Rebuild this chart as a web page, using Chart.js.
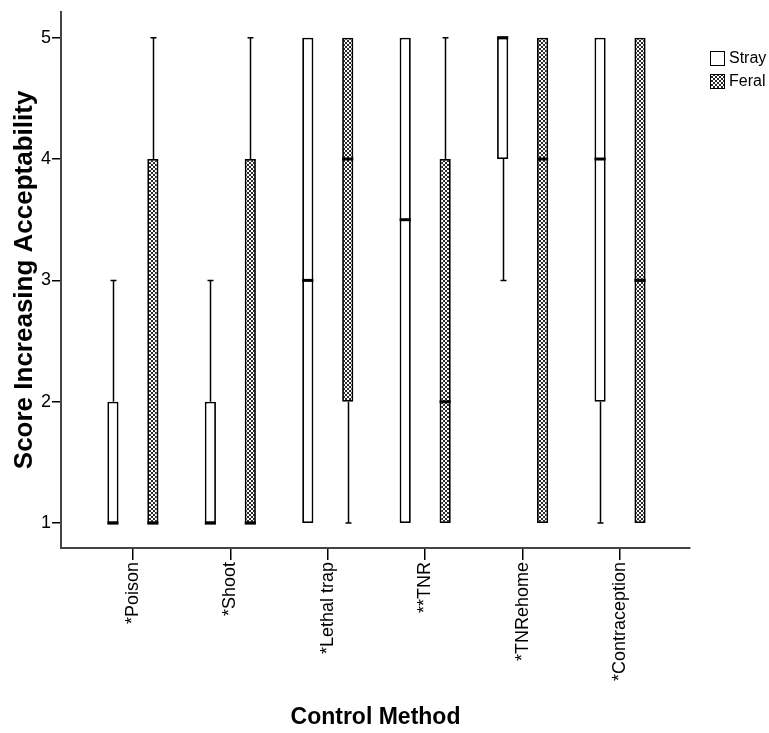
<!DOCTYPE html>
<html>
<head>
<meta charset="utf-8">
<script src="https://cdn.jsdelivr.net/npm/chart.js@4.4.1/dist/chart.umd.min.js"></script>
<style>
  html, body { margin: 0; padding: 0; background: #fff; }
</style>
</head>
<body>
<canvas id="boxChart" width="769" height="733"></canvas>
<script>
const methods = ['*Poison', '*Shoot', '*Lethal trap', '**TNR', '*TNRehome', '*Contraception'];
const groups = ['Stray', 'Feral'];

// five-number summaries
const strayMin = [1, 1, 1, 1, 3, 1];
const strayQ1 = [1, 1, 1, 1, 4, 2];
const strayMedian = [1, 1, 3, 3.5, 5, 4];
const strayQ3 = [2, 2, 5, 5, 5, 5];
const strayMax = [3, 3, 5, 5, 5, 5];

const feralMin = [1, 1, 1, 1, 1, 1];
const feralQ1 = [1, 1, 2, 1, 1, 1];
const feralMedian = [1, 1, 4, 2, 4, 3];
const feralQ3 = [4, 4, 5, 4, 5, 5];
const feralMax = [5, 5, 5, 5, 5, 5];

const scoreTicks = [1, 2, 3, 4, 5];

const FONT = "'Liberation Sans', Arial, sans-serif";

function dotPattern() {
  const c = document.createElement('canvas');
  c.width = 4;
  c.height = 4;
  const g = c.getContext('2d');
  g.fillStyle = '#2a2a2a';
  g.fillRect(0, 0, 4, 4);
  g.fillStyle = '#ffffff';
  g.fillRect(1, 0, 2, 2);
  g.fillRect(3, 2, 1, 2);
  g.fillRect(0, 2, 1, 2);
  return g.createPattern(c, 'repeat');
}
const feralFill = dotPattern();

const stats = [
  {min: strayMin, q1: strayQ1, med: strayMedian, q3: strayQ3, max: strayMax},
  {min: feralMin, q1: feralQ1, med: feralMedian, q3: feralQ3, max: feralMax}
];

// whiskers + medians on top of the floating bars
const boxPlot = {
  id: 'boxPlot',
  afterDatasetsDraw(chart) {
    const ctx = chart.ctx;
    const yScale = chart.scales.y;
    ctx.save();
    ctx.strokeStyle = '#000';
    stats.forEach((s, d) => {
      chart.getDatasetMeta(d).data.forEach((bar, i) => {
        const cx = Math.round(bar.x) + 0.5;
        const half = bar.width / 2;
        ctx.lineWidth = 1.5;
        ctx.beginPath();
        if (s.max[i] > s.q3[i]) {
          const top = yScale.getPixelForValue(s.max[i]);
          ctx.moveTo(cx, yScale.getPixelForValue(s.q3[i]));
          ctx.lineTo(cx, top);
          ctx.moveTo(cx - 3, top);
          ctx.lineTo(cx + 3, top);
        }
        if (s.min[i] < s.q1[i]) {
          const bot = yScale.getPixelForValue(s.min[i]);
          ctx.moveTo(cx, yScale.getPixelForValue(s.q1[i]));
          ctx.lineTo(cx, bot);
          ctx.moveTo(cx - 3, bot);
          ctx.lineTo(cx + 3, bot);
        }
        ctx.stroke();
        ctx.lineWidth = 3;
        ctx.beginPath();
        const my = yScale.getPixelForValue(s.med[i]);
        ctx.moveTo(bar.x - half, my);
        ctx.lineTo(bar.x + half, my);
        ctx.stroke();
      });
    });
    ctx.restore();
  }
};

// small legend at top right
const sideLegend = {
  id: 'sideLegend',
  afterDraw(chart) {
    const ctx = chart.ctx;
    ctx.save();
    ctx.font = '16px ' + FONT;
    ctx.textBaseline = 'middle';
    chart.data.datasets.forEach((ds, i) => {
      const y = 51 + i * 23;
      ctx.fillStyle = ds.backgroundColor;
      ctx.fillRect(710, y, 15, 15);
      ctx.lineWidth = 1;
      ctx.strokeStyle = '#000';
      ctx.strokeRect(710.5, y + 0.5, 14, 14);
      ctx.fillStyle = '#000';
      ctx.fillText(ds.label, 729, y + 8);
    });
    ctx.restore();
  }
};

const boxData = {
  datasets: [
    {
      label: groups[0],
      data: methods.map((m, i) => ({x: i, y: [strayQ1[i], strayQ3[i]]})),
      backgroundColor: '#ffffff',
      borderColor: '#000000',
      borderWidth: 1.8,
      borderSkipped: false
    },
    {
      label: groups[1],
      data: methods.map((m, i) => ({x: i, y: [feralQ1[i], feralQ3[i]]})),
      backgroundColor: feralFill,
      borderColor: '#000000',
      borderWidth: 1.8,
      borderSkipped: false
    }
  ]
};

const boxCtx = document.getElementById('boxChart').getContext('2d');
const boxChart = new Chart(boxCtx, {
  type: 'bar',
  data: boxData,
  plugins: [boxPlot, sideLegend],
  options: {
    responsive: false,
    animation: false,
    layout: {padding: {top: 8, right: 79}},
    categoryPercentage: 0.82,
    barPercentage: 0.28,
    plugins: {
      legend: {display: false},
      tooltip: {enabled: false}
    },
    scales: {
      x: {
        type: 'linear',
        offset: false,
        min: -0.738,
        max: 5.718,
        afterFit: (scale) => { scale.height = 185; },
        border: {color: '#444', width: 2},
        grid: {offset: false, drawOnChartArea: false, tickLength: 12, color: '#000', lineWidth: 1.5},
        ticks: {
          stepSize: 1,
          includeBounds: false,
          autoSkip: false,
          maxRotation: 90,
          minRotation: 90,
          padding: 2,
          color: '#000',
          font: {family: FONT, size: 18},
          callback: (v) => methods[v]
        },
        title: {
          display: true,
          text: 'Control Method',
          color: '#000',
          font: {family: FONT, size: 23, weight: 'bold'},
          padding: {top: 0, bottom: 2}
        }
      },
      y: {
        min: 0.795,
        max: 5.213,
        afterFit: (scale) => { scale.width = 61; },
        border: {color: '#444', width: 2},
        grid: {drawOnChartArea: false, tickLength: 9, color: '#000', lineWidth: 1.5},
        ticks: {
          stepSize: 1,
          includeBounds: false,
          padding: 1,
          color: '#000',
          font: {family: FONT, size: 18},
          callback: (v) => scoreTicks.includes(v) ? v : ''
        },
        title: {
          display: true,
          text: 'Score Increasing Acceptability',
          color: '#000',
          font: {family: FONT, size: 26, weight: 'bold'},
          padding: {top: 9, bottom: 0}
        }
      }
    }
  }
});
</script>
</body>
</html>
